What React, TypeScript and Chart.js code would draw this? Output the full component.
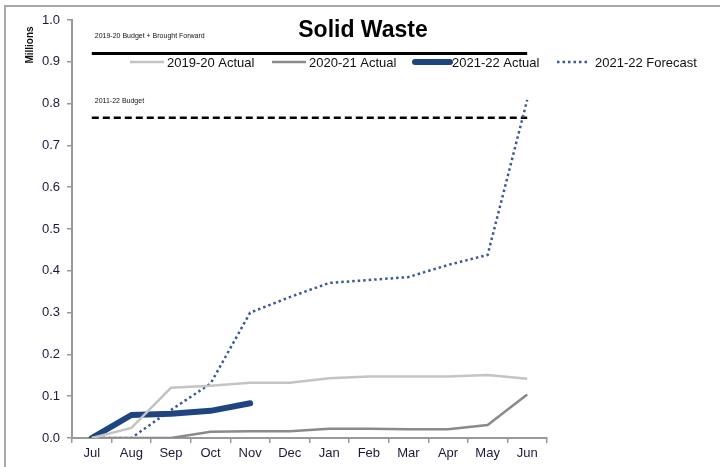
import React, { useEffect, useRef } from "react";
import { Chart, registerables } from "chart.js";

Chart.register(...registerables);

const months = ["Jul", "Aug", "Sep", "Oct", "Nov", "Dec", "Jan", "Feb", "Mar", "Apr", "May", "Jun"];
const actual1920 = [0, 0.024, 0.12, 0.125, 0.132, 0.132, 0.143, 0.147, 0.147, 0.147, 0.151, 0.142];
const actual2021 = [0, 0, 0, 0.015, 0.016, 0.016, 0.022, 0.022, 0.021, 0.021, 0.031, 0.104];
const actual2122 = [0, 0.055, 0.058, 0.065, 0.083, null, null, null, null, null, null, null];
const forecast2122 = [0, 0, 0.067, 0.13, 0.3, 0.337, 0.371, 0.378, 0.385, 0.414, 0.438, 0.809];
const budgetBF = 0.92;
const budget2122 = 0.766;
const budgetBFLabel = "2019-20 Budget + Brought Forward";
const budget2122Label = "2011-22 Budget";
const yTicks = [0, 0.1, 0.2, 0.3, 0.4, 0.5, 0.6, 0.7, 0.8, 0.9, 1.0];

const FONT = "'Liberation Sans', Arial, sans-serif";

const overlayPlugin = {
  id: "overlay",
  afterDatasetsDraw(chart: any) {
    const ctx = chart.ctx;
    const y = chart.scales.y;
    const x = chart.scales.x;
    ctx.save();
    // title
    ctx.fillStyle = "#000";
    ctx.font = `bold 23px ${FONT}`;
    ctx.textAlign = "center";
    ctx.textBaseline = "alphabetic";
    ctx.fillText("Solid Waste", 363, 37);
    // y axis title
    ctx.save();
    ctx.translate(30, 45);
    ctx.rotate(-Math.PI / 2);
    ctx.font = `bold 10px ${FONT}`;
    ctx.textBaseline = "middle";
    ctx.fillStyle = "#111";
    ctx.fillText("Millions", 0, 0);
    ctx.restore();
    // budget labels
    ctx.font = `7px ${FONT}`;
    ctx.textAlign = "left";
    ctx.fillStyle = "#111";
    const x0 = x.getPixelForValue(0) + 3;
    ctx.fillText(budgetBFLabel, x0, y.getPixelForValue(budgetBF) - 15);
    ctx.fillText(budget2122Label, x0, y.getPixelForValue(budget2122) - 15);
    // legend
    const items = [
      { ds: 0, x1: 130, x2: 164, tx: 167 },
      { ds: 1, x1: 272, x2: 306, tx: 309 },
      { ds: 2, x1: 415, x2: 450, tx: 452 },
      { ds: 3, x1: 557, x2: 588, tx: 595 },
    ];
    const ly = 62;
    ctx.font = `13px ${FONT}`;
    ctx.textBaseline = "middle";
    for (const it of items) {
      const d = chart.data.datasets[it.ds];
      ctx.beginPath();
      ctx.strokeStyle = d.borderColor;
      ctx.lineWidth = d.borderWidth;
      ctx.lineCap = it.ds === 2 ? "round" : "butt";
      ctx.setLineDash(d.borderDash || []);
      ctx.moveTo(it.x1, ly);
      ctx.lineTo(it.x2, ly);
      ctx.stroke();
      ctx.setLineDash([]);
      ctx.fillStyle = "#111";
      ctx.fillText(d.label, it.tx, ly + 1);
    }
    ctx.restore();
  },
};

export default function App() {
  const ref = useRef<HTMLCanvasElement>(null);
  useEffect(() => {
    document.body.style.margin = "0";
    const chart = new Chart(ref.current!, {
      type: "line",
      data: {
        labels: months,
        datasets: [
          { label: "2019-20 Actual", data: actual1920, borderColor: "#c4c4c4", borderWidth: 2.5, pointRadius: 0, tension: 0 },
          { label: "2020-21 Actual", data: actual2021, borderColor: "#8a8a8a", borderWidth: 2.5, pointRadius: 0, tension: 0 },
          { label: "2021-22 Actual", data: actual2122, borderColor: "#1f4580", borderWidth: 6, pointRadius: 0, borderCapStyle: "round", borderJoinStyle: "round", tension: 0 },
          { label: "2021-22 Forecast", data: forecast2122, borderColor: "#3a5a94", borderWidth: 2.5, borderDash: [2.5, 3], pointRadius: 0, tension: 0 },
          { label: budgetBFLabel, data: months.map(() => budgetBF), borderColor: "#000", borderWidth: 3, pointRadius: 0 },
          { label: budget2122Label, data: months.map(() => budget2122), borderColor: "#000", borderWidth: 2.5, borderDash: [7, 4], pointRadius: 0 },
        ],
      },
      options: {
        animation: false,
        responsive: false,
        layout: { padding: { top: 20, right: 173, left: 0, bottom: 0 } },
        plugins: { legend: { display: false }, title: { display: false }, tooltip: { enabled: false } },
        scales: {
          x: {
            offset: true,
            grid: { display: true, drawOnChartArea: false, drawTicks: true, tickLength: 5, offset: true, color: "#999", lineWidth: 1.5 } as any,
            border: { display: true, color: "#999", width: 2 },
            ticks: { color: "#1a1a3a", font: { family: FONT, size: 13 }, padding: 3, maxRotation: 0, autoSkip: false },
            afterFit: (s: any) => { s.height = 29; },
          },
          y: {
            min: 0,
            max: 1.0,
            afterBuildTicks: (s: any) => { s.ticks = yTicks.map((v) => ({ value: v })); },
            grid: { display: true, drawOnChartArea: false, drawTicks: true, tickLength: 5, color: "#999", lineWidth: 1.5 },
            border: { display: true, color: "#999", width: 2 },
            ticks: { color: "#1a1a3a", font: { family: FONT, size: 13 }, padding: 7, callback: (v: any) => Number(v).toFixed(1) },
            afterFit: (s: any) => { s.width = 72; },
          },
        },
      } as any,
      plugins: [overlayPlugin],
    });
    return () => chart.destroy();
  }, []);
  return (
    <div style={{ position: "relative", width: 720, height: 467, overflow: "hidden", background: "#fff" }}>
      <canvas ref={ref} width={720} height={467} style={{ display: "block" }} />
      <div style={{ position: "absolute", left: 4, top: 5, width: 760, height: 500, border: "2px solid #a8a8a8", boxSizing: "border-box", pointerEvents: "none" }} />
    </div>
  );
}
